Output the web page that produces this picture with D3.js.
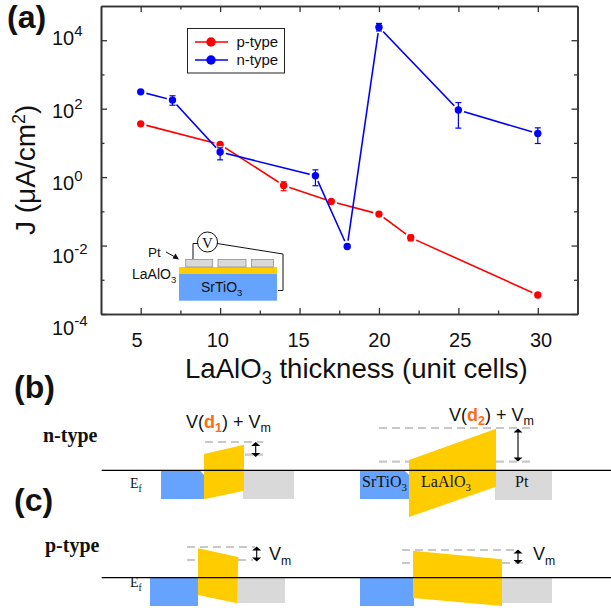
<!DOCTYPE html>
<html>
<head>
<meta charset="utf-8">
<script src="https://cdn.jsdelivr.net/npm/d3@7"></script>
<style>
  html, body { margin: 0; padding: 0; background: #fff; }
  svg { display: block; }
  text { font-family: "Liberation Sans", Arial, sans-serif; fill: #111; }
  .serif { font-family: "Liberation Serif", "Times New Roman", serif; }
</style>
</head>
<body>
<div id="chart"></div>
<script>
// values
const pThickness = [5, 10, 14, 17, 20, 22, 30];
const pCurrent = [36, 9, 0.57, 0.194, 0.083, 0.017, 0.00036];
const pErrLow = [null, null, 0.4, null, null, 0.0138, null];
const pErrHigh = [null, null, 0.73, null, null, 0.0204, null];

const nThickness = [5, 7, 10, 16, 18, 20, 25, 30];
const nCurrent = [310, 178, 5.4, 1.1, 0.0094, 24000, 91, 18.8];
const nErrLow = [null, 126, 3.2, 0.56, null, 18600, 27, 9.6];
const nErrHigh = [null, 238, 7.2, 1.63, null, 31000, 151, 27.5];

const xTicks = [5, 10, 15, 20, 25, 30];
const xMinorTicks = [7.5, 12.5, 17.5, 22.5, 27.5];
const yExponents = [4, 2, 0, -2, -4];
const yMinorExponents = [3, 1, -1, -3];

const W = 611, H = 611;
const svg = d3.select("#chart").append("svg").attr("width", W).attr("height", H);

// Create the scales
const plot = { left: 101, right: 577.5, top: 6, bottom: 314 };
const x = d3.scaleLinear().domain([2.5, 32.5]).range([plot.left, plot.right]);
const y = d3.scaleLog().domain([1e-4, 1e5]).range([plot.bottom, plot.top]);

// tick labels in the figure are placed by hand and drift away from the ticks
const labelX = d3.scaleLinear().domain([5, 30]).range([137, 541]);
const labelY = d3.scaleLinear().domain([4, -4]).range([45, 335]);

const axisColor = "#333";
function styleAxis(g) {
  g.select(".domain").attr("stroke", axisColor).attr("stroke-width", 1.6);
  g.selectAll(".tick line").attr("stroke", axisColor).attr("stroke-width", 1.3);
  g.selectAll(".tick text").remove();
}

function drawXAxis(yPos, maker) {
  const major = maker(x).tickValues(xTicks).tickSize(6).tickSizeOuter(0);
  const minor = maker(x).tickValues(xMinorTicks).tickSize(3.5).tickSizeOuter(0);
  svg.append("g").attr("transform", `translate(0,${yPos})`).call(minor).call(styleAxis);
  svg.append("g").attr("transform", `translate(0,${yPos})`).call(major).call(styleAxis);
}

function drawYAxis(xPos, maker) {
  const major = maker(y).tickValues(yExponents.map(e => Math.pow(10, e))).tickSize(6).tickSizeOuter(0);
  const minor = maker(y).tickValues(yMinorExponents.map(e => Math.pow(10, e))).tickSize(3.5).tickSizeOuter(0);
  svg.append("g").attr("transform", `translate(${xPos},0)`).call(minor).call(styleAxis);
  svg.append("g").attr("transform", `translate(${xPos},0)`).call(major).call(styleAxis);
}

// ticks point into the plot on all four sides
drawXAxis(plot.bottom, d3.axisTop);
drawXAxis(plot.top, d3.axisBottom);
drawYAxis(plot.left, d3.axisRight);
drawYAxis(plot.right, d3.axisLeft);

// tick labels
svg.selectAll(".xlabel").data(xTicks).enter().append("text")
  .attr("class", "xlabel")
  .attr("x", d => labelX(d))
  .attr("y", 347)
  .attr("text-anchor", "middle")
  .attr("font-size", 20)
  .text(d => d);

yExponents.forEach(e => {
  const t = svg.append("text").attr("x", 52).attr("y", labelY(e)).attr("font-size", 20);
  t.append("tspan").text("10");
  t.append("tspan").attr("dy", -9).attr("font-size", 15).text(e < 0 ? "-" + (-e) : e);
});

// axis titles
const xTitle = svg.append("text").attr("x", 185).attr("y", 378).attr("font-size", 27.6);
xTitle.append("tspan").text("LaAlO");
xTitle.append("tspan").attr("dy", 6).attr("font-size", 18).text("3");
xTitle.append("tspan").attr("dy", -6).text(" thickness (unit cells)");

const yTitle = svg.append("text")
  .attr("transform", "translate(35,235) rotate(-90)")
  .attr("font-size", 28);
yTitle.append("tspan").text("J (\u03bcA/cm");
yTitle.append("tspan").attr("dy", -10).attr("font-size", 18).text("2");
yTitle.append("tspan").attr("dy", 10).text(")");

// one series: line, white halo round the markers, error bars, markers
function drawSeries(xs, ys, lows, highs, color) {
  const rows = xs.map((d, i) => ({ x: d, y: ys[i], low: lows[i], high: highs[i] }));
  const g = svg.append("g");
  g.append("path")
    .datum(rows)
    .attr("fill", "none")
    .attr("stroke", color)
    .attr("stroke-width", 1.6)
    .attr("d", d3.line().x(d => x(d.x)).y(d => y(d.y)));
  g.selectAll(".halo").data(rows).enter().append("circle")
    .attr("class", "halo")
    .attr("cx", d => x(d.x)).attr("cy", d => y(d.y))
    .attr("r", 6).attr("fill", "#fff");
  const bars = rows.filter(d => d.low !== null);
  g.selectAll(".bar").data(bars).enter().append("line")
    .attr("class", "bar")
    .attr("x1", d => x(d.x)).attr("x2", d => x(d.x))
    .attr("y1", d => y(d.low)).attr("y2", d => y(d.high))
    .attr("stroke", color).attr("stroke-width", 1.2);
  [d => d.low, d => d.high].forEach(end => {
    g.selectAll(null).data(bars).enter().append("line")
      .attr("x1", d => x(d.x) - 3).attr("x2", d => x(d.x) + 3)
      .attr("y1", d => y(end(d))).attr("y2", d => y(end(d)))
      .attr("stroke", color).attr("stroke-width", 1.2);
  });
  g.selectAll(".dot").data(rows).enter().append("circle")
    .attr("class", "dot")
    .attr("cx", d => x(d.x)).attr("cy", d => y(d.y))
    .attr("r", 3.7).attr("fill", color);
}
drawSeries(pThickness, pCurrent, pErrLow, pErrHigh, "#ff0000");
drawSeries(nThickness, nCurrent, nErrLow, nErrHigh, "#0000ff");

// legend
svg.append("rect").attr("x", 187.5).attr("y", 28.5).attr("width", 97).attr("height", 44.5)
  .attr("fill", "#fff").attr("stroke", "#222").attr("stroke-width", 1);
[["p-type", "#ff0000", 42, 47], ["n-type", "#0000ff", 60, 65]].forEach(([name, color, ly, by]) => {
  svg.append("line").attr("x1", 195).attr("x2", 228).attr("y1", ly).attr("y2", ly)
    .attr("stroke", color).attr("stroke-width", 1.5);
  svg.append("circle").attr("cx", 211).attr("cy", ly).attr("r", 4.7).attr("fill", color);
  svg.append("text").attr("x", 236.5).attr("y", by).attr("font-size", 15).text(name);
});

// schematic helpers
const BLUE = "#66a3ff", GOLD = "#ffcc00", GREY = "#d9d9d9", DASH = "#c8c8c8";
const poly = pts => svg.append("polygon").attr("points", pts.map(p => p.join(",")).join(" "));
const box = (x0, y0, x1, y1, fill) => svg.append("rect")
  .attr("x", x0).attr("y", y0).attr("width", x1 - x0).attr("height", y1 - y0).attr("fill", fill);
const rule = (x0, y0, x1, y1, color, w) => svg.append("line")
  .attr("x1", x0).attr("y1", y0).attr("x2", x1).attr("y2", y1)
  .attr("stroke", color).attr("stroke-width", w);
const dash = (x0, x1, yy) => rule(x0, yy, x1, yy, DASH, 2.2).attr("stroke-dasharray", "8 5");
function subText(px, py, size, base, sub, cls) {
  const t = svg.append("text").attr("x", px).attr("y", py).attr("font-size", size);
  if (cls) t.attr("class", cls);
  t.append("tspan").text(base);
  t.append("tspan").attr("dy", size * 0.25).attr("font-size", size * 0.68).text(sub);
  return t;
}
function arrow(ax, y0, y1) {
  rule(ax, y0 + 3, ax, y1 - 3, "#000", 1.1);
  poly([[ax - 4.5, y0 + 4], [ax + 4.5, y0 + 4], [ax, y0]]).attr("fill", "#000");
  poly([[ax - 4.5, y1 - 4], [ax + 4.5, y1 - 4], [ax, y1]]).attr("fill", "#000");
}
function voltageLabel(px, py, sub) {
  const t = svg.append("text").attr("x", px).attr("y", py).attr("font-size", 18);
  t.append("tspan").text("V(");
  t.append("tspan").attr("fill", "#ff6a13").attr("font-weight", "bold").text("d");
  t.append("tspan").attr("fill", "#ff6a13").attr("font-weight", "bold").attr("font-size", 12.5).attr("dy", 4).text(sub);
  t.append("tspan").attr("dy", -4).text(") + V");
  t.append("tspan").attr("font-size", 12.5).attr("dy", 4).text("m");
}

// inset device sketch
box(179, 273.7, 277, 300.7, BLUE);
box(179, 267, 277, 274, GOLD);
[[185.7, 212.7], [218, 246], [251.5, 273.5]].forEach(([a, b]) => {
  svg.append("rect").attr("x", a).attr("y", 259.5).attr("width", b - a).attr("height", 7.5)
    .attr("fill", GREY).attr("stroke", "#8f8f8f").attr("stroke-width", 0.8);
});
svg.append("path")
  .attr("d", "M193,259V243.5H198M217,243.5L283,254V290.5H278")
  .attr("fill", "none").attr("stroke", "#111").attr("stroke-width", 1);
svg.append("circle").attr("cx", 207.5).attr("cy", 242).attr("r", 10)
  .attr("fill", "#fff").attr("stroke", "#111").attr("stroke-width", 1);
svg.append("text").attr("class", "serif").attr("x", 207.5).attr("y", 247.5)
  .attr("text-anchor", "middle").attr("font-size", 15).text("V");
svg.append("text").attr("x", 148).attr("y", 257).attr("font-size", 13.5).text("Pt");
rule(166, 252, 175, 257, "#111", 1);
poly([[179, 259.5], [172.5, 258.5], [175.5, 253.5]]).attr("fill", "#111");
subText(132, 279, 14, "LaAlO", "3");
subText(201, 292, 14, "SrTiO", "3");

// panel letters
[["(a)", 7, 28], ["(b)", 14, 398], ["(c)", 14, 511]].forEach(([s, px, py]) => {
  svg.append("text").attr("x", px).attr("y", py)
    .attr("font-size", 32).attr("font-weight", "bold").text(s);
});
svg.append("text").attr("class", "serif").attr("x", 43).attr("y", 442)
  .attr("font-size", 20).attr("font-weight", "bold").text("n-type");
svg.append("text").attr("class", "serif").attr("x", 45).attr("y", 552)
  .attr("font-size", 20).attr("font-weight", "bold").text("p-type");

// (b) left
box(161, 471, 204, 499, BLUE);
poly([[199.5, 470], [204, 470], [204, 475]]).attr("fill", "#fff");
box(243, 471, 294, 499, GREY);
poly([[204, 454], [244, 444.7], [244, 490.7], [204, 499.3]]).attr("fill", GOLD);
dash(205, 263, 442);
dash(245, 263, 454.7);
arrow(255.7, 442, 457);
voltageLabel(186, 428, "1");
subText(130, 488, 14, "E", "f", "serif");

// (b) right
box(360, 471, 409, 499, BLUE);
poly([[404, 470], [409, 470], [409, 475]]).attr("fill", "#fff");
box(495, 471, 552, 500, GREY);
poly([[409, 460], [496, 428.7], [496, 486.7], [409, 517]]).attr("fill", GOLD);
dash(379, 531, 428);
dash(379, 409, 461.7);
dash(496, 530, 461.7);
arrow(518, 428.5, 461.5);
voltageLabel(449, 421, "2");
subText(362, 487, 16, "SrTiO", "3", "serif");
subText(421, 487, 16, "LaAlO", "3", "serif");
svg.append("text").attr("class", "serif").attr("x", 515).attr("y", 487).attr("font-size", 16).text("Pt");

// (c) left
box(150, 578, 198, 606, BLUE);
box(237, 578, 285, 603, GREY);
poly([[198, 548.3], [238.3, 557], [237, 603.3], [198, 595]]).attr("fill", GOLD);
dash(187, 255, 547);
dash(187, 198, 560);
dash(238, 253, 560);
arrow(256.7, 546.5, 561.5);
subText(269, 560, 18, "V", "m");
subText(130, 587, 14, "E", "f", "serif");

// (c) right
box(360, 578, 414, 606, BLUE);
box(502, 578, 552, 603, GREY);
poly([[413, 550.7], [502, 559.3], [502, 606], [413, 598]]).attr("fill", GOLD);
dash(402, 514, 550);
dash(402, 413, 563);
dash(502, 523, 563);
arrow(518, 549.5, 564);
subText(533, 560, 18, "V", "m");

// Fermi level lines
rule(101.7, 470.3, 611, 470.3, "#000", 1.2);
rule(101.7, 577.7, 611, 577.7, "#000", 1.2);
</script>
</body>
</html>
